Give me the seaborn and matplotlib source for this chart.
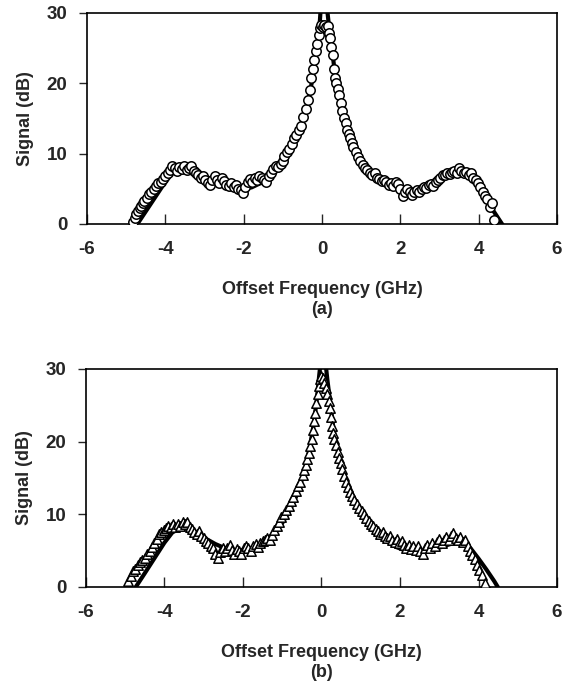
import pandas as pd
import seaborn as sns
import matplotlib.pyplot as plt

# --- measured points, panel (a) (circles) ---
a_freq = [-4.82, -4.78, -4.74, -4.70, -4.66, -4.62, -4.58, -4.54, -4.48, -4.42,
          -4.36, -4.30, -4.24, -4.18, -4.12, -4.06, -4.00, -3.94, -3.88, -3.82,
          -3.76, -3.70, -3.64, -3.58, -3.52, -3.46, -3.40, -3.34, -3.28, -3.22,
          -3.16, -3.10, -3.04, -2.98, -2.92, -2.86, -2.80, -2.74, -2.68, -2.62,
          -2.56, -2.50, -2.44, -2.38, -2.32, -2.26, -2.20, -2.14, -2.08, -2.02,
          -1.96, -1.90, -1.84, -1.78, -1.72, -1.66, -1.60, -1.54, -1.48, -1.42,
          -1.36, -1.30, -1.24, -1.18, -1.12, -1.06, -1.00, -0.96, -0.90, -0.84,
          -0.78, -0.72, -0.66, -0.60, -0.54, -0.48, -0.42, -0.36, -0.32, -0.28,
          -0.24, -0.20, -0.16, -0.12, -0.08, -0.05, -0.02, 0.02,
          0.06, 0.10, 0.14, 0.18, 0.21, 0.24, 0.27, 0.30, 0.33, 0.36,
          0.40, 0.44, 0.48, 0.52, 0.56, 0.60, 0.64, 0.68, 0.72, 0.76,
          0.80, 0.86, 0.92, 0.98, 1.04, 1.10, 1.16, 1.22, 1.28, 1.34,
          1.40, 1.46, 1.52, 1.58, 1.64, 1.70, 1.76, 1.82, 1.88, 1.94,
          2.00, 2.06, 2.12, 2.18, 2.24, 2.30, 2.36, 2.42, 2.48, 2.54,
          2.60, 2.66, 2.72, 2.78, 2.84, 2.90, 2.96, 3.02, 3.08, 3.14,
          3.20, 3.26, 3.32, 3.38, 3.44, 3.50, 3.56, 3.62, 3.68, 3.74,
          3.80, 3.86, 3.92, 3.98, 4.04, 4.10, 4.16, 4.22, 4.28, 4.34, 4.38]
a_signal = [0.3, 0.9, 1.4, 1.8, 2.3, 2.6, 3.0, 3.2, 3.7, 4.3,
            4.6, 5.0, 5.4, 5.8, 6.0, 6.4, 6.8, 7.3, 7.7, 8.2,
            8.0, 7.6, 8.1, 7.8, 8.2, 7.7, 8.0, 8.3, 7.6, 7.2,
            6.9, 6.5, 6.8, 6.2, 5.8, 5.5, 6.2, 6.8, 6.3, 5.8,
            6.6, 6.1, 5.6, 5.4, 5.8, 5.2, 5.6, 5.0, 4.8, 4.4,
            5.2, 5.9, 6.4, 6.0, 6.5, 6.3, 6.8, 6.6, 6.2, 6.0,
            6.8, 7.3, 7.8, 8.3, 8.1, 8.5, 8.9, 9.6, 10.2, 10.6,
            11.3, 12.2, 12.6, 13.3, 14.0, 15.2, 16.3, 17.6, 19.0, 20.8,
            22.0, 23.3, 24.6, 25.6, 26.8, 27.8, 28.3, 28.0,
            28.3, 28.0, 28.2, 27.2, 26.4, 25.2, 24.0, 22.0, 20.8, 20.0,
            19.2, 18.3, 17.2, 16.0, 15.1, 14.4, 13.4, 12.8, 12.2, 11.5,
            11.0, 10.2, 9.5, 8.9, 8.4, 8.0, 7.7, 7.3, 7.0, 7.2,
            6.6, 6.4, 6.1, 6.3, 5.9, 5.6, 5.8, 5.4, 6.0, 5.7,
            5.0, 4.0, 4.6, 5.0, 4.5, 4.1, 4.5, 4.8, 4.6, 5.0,
            5.3, 5.1, 5.5, 5.7, 5.4, 6.0, 6.3, 6.6, 6.9, 7.0,
            7.3, 7.1, 7.4, 7.6, 7.3, 8.0, 7.5, 7.2, 7.4, 7.0,
            7.2, 6.6, 6.2, 5.8, 5.2, 4.6, 4.0, 3.5, 2.4, 3.0, 0.6]

# --- theory curve, panel (a): two branches either side of the carrier ---
a_fit_left_x = [-4.75, -4.5, -4.25, -4.0, -3.8, -3.6, -3.4, -3.2, -3.0, -2.6,
                -2.2, -2.0, -1.8, -1.5, -1.2, -1.0, -0.8, -0.6, -0.4, -0.3,
                -0.2, -0.12, -0.06, -0.03]
a_fit_left_y = [-0.3, 1.8, 3.9, 6.0, 7.4, 7.9, 7.9, 7.4, 6.8, 5.8,
                5.1, 5.0, 5.2, 6.0, 7.4, 8.8, 10.5, 12.9, 16.5, 19.0,
                22.0, 25.5, 28.5, 31.0]
a_fit_right_x = [0.12, 0.17, 0.25, 0.35, 0.5, 0.7, 0.9, 1.2, 1.5, 1.8,
                 2.0, 2.3, 2.6, 3.0, 3.3, 3.5, 3.7, 3.9, 4.1, 4.3, 4.5, 4.63]
a_fit_right_y = [31.0, 28.5, 25.0, 20.5, 16.5, 12.5, 10.0, 7.8, 6.3, 5.4,
                 5.0, 4.8, 5.1, 6.0, 7.0, 7.3, 7.0, 5.8, 4.2, 2.5, 0.8, -0.3]

# --- measured points, panel (b) (triangles) ---
b_freq = [-4.92, -4.86, -4.80, -4.74, -4.68, -4.62, -4.56, -4.50, -4.44, -4.38,
          -4.32, -4.26, -4.20, -4.14, -4.08, -4.02, -3.96, -3.90, -3.84, -3.78,
          -3.72, -3.66, -3.60, -3.54, -3.48, -3.42, -3.36, -3.30, -3.24, -3.18,
          -3.12, -3.06, -3.00, -2.94, -2.88, -2.82, -2.76, -2.70, -2.64, -2.58,
          -2.52, -2.46, -2.40, -2.34, -2.28, -2.22, -2.16, -2.10, -2.04, -1.98,
          -1.92, -1.86, -1.80, -1.74, -1.68, -1.62, -1.56, -1.50, -1.44, -1.38,
          -1.32, -1.26, -1.20, -1.14, -1.08, -1.02, -0.96, -0.90, -0.84, -0.78,
          -0.72, -0.66, -0.60, -0.54, -0.48, -0.44, -0.40, -0.36, -0.32, -0.28,
          -0.25, -0.22, -0.19, -0.16, -0.13, -0.10, -0.07, -0.04, -0.01,
          0.03, 0.07, 0.11, 0.15, 0.18, 0.21, 0.24, 0.27, 0.30, 0.33,
          0.37, 0.41, 0.45, 0.49, 0.53, 0.58, 0.63, 0.68, 0.73, 0.78,
          0.84, 0.90, 0.96, 1.02, 1.08, 1.14, 1.20, 1.26, 1.32, 1.38,
          1.44, 1.50, 1.56, 1.62, 1.68, 1.74, 1.80, 1.86, 1.92, 1.98,
          2.04, 2.10, 2.16, 2.22, 2.28, 2.34, 2.40, 2.46, 2.52, 2.58,
          2.64, 2.70, 2.76, 2.82, 2.88, 2.94, 3.00, 3.06, 3.12, 3.18,
          3.24, 3.30, 3.36, 3.42, 3.48, 3.54, 3.60, 3.66, 3.72, 3.78,
          3.84, 3.90, 3.96, 4.02, 4.08, 4.16]
b_signal = [0.8, 1.5, 2.2, 2.5, 3.0, 3.5, 3.7, 4.0, 4.5, 4.9,
            5.5, 6.0, 6.6, 7.3, 7.6, 7.9, 8.1, 8.4, 8.2, 8.6,
            8.3, 8.7, 8.4, 8.9, 8.6, 9.0, 8.3, 8.0, 7.6, 7.3,
            7.7, 7.0, 6.7, 6.3, 6.0, 5.7, 5.3, 4.6, 4.0, 4.8,
            5.4, 5.0, 5.4, 5.8, 5.1, 4.6, 5.2, 5.0, 4.5, 5.4,
            5.7, 5.3, 5.0, 5.6, 5.9, 5.5, 6.0, 6.3, 6.5, 6.8,
            6.4, 7.2, 7.8, 8.4, 9.0, 9.6, 10.1, 10.6, 11.2, 11.8,
            12.4, 13.2, 13.9, 14.5, 15.4, 16.1, 16.8, 17.6, 18.5, 19.4,
            20.4, 21.6, 22.8, 24.0, 25.3, 26.5, 27.6, 28.6, 29.0,
            28.8, 28.0, 27.4, 26.6, 25.6, 24.6, 23.4, 22.2, 21.2, 20.3,
            19.5, 18.6, 17.7, 17.0, 16.2, 15.3, 14.5, 13.8, 13.1, 12.5,
            12.0, 11.4, 10.9, 10.4, 10.0, 9.5, 9.1, 8.7, 8.4, 8.0,
            7.7, 7.3, 7.5, 7.0, 6.7, 7.0, 6.5, 6.2, 6.6, 6.0,
            6.3, 5.8, 5.4, 5.8, 5.2, 5.6, 5.1, 5.6, 5.0, 4.5,
            5.3, 5.8, 5.4, 6.0, 5.7, 6.2, 6.6, 6.0, 6.5, 6.9,
            6.4, 7.0, 7.4, 6.8, 6.5, 6.9, 6.2, 6.5, 5.7, 5.0,
            4.4, 3.8, 3.0, 2.4, 1.6, 0.5]

# --- theory curve, panel (b) ---
b_fit_left_x = [-4.73, -4.5, -4.25, -4.0, -3.8, -3.6, -3.4, -3.2, -3.0, -2.7,
                -2.4, -2.1, -1.8, -1.5, -1.2, -1.0, -0.8, -0.6, -0.4, -0.3,
                -0.2, -0.12, -0.06, -0.02]
b_fit_left_y = [0.0, 1.9, 4.0, 6.1, 7.5, 8.1, 8.0, 7.5, 6.8, 5.9,
                5.2, 5.0, 5.3, 6.1, 7.4, 8.8, 10.6, 13.0, 16.6, 19.2,
                22.3, 25.8, 29.0, 31.0]
b_fit_right_x = [0.1, 0.15, 0.22, 0.3, 0.4, 0.5, 0.65, 0.8, 1.0, 1.3,
                 1.6, 1.9, 2.2, 2.5, 2.8, 3.1, 3.4, 3.6, 3.8, 4.0,
                 4.2, 4.4, 4.49]
b_fit_right_y = [31.0, 28.5, 25.5, 22.0, 19.0, 16.8, 14.3, 12.3, 10.2, 8.0,
                 6.5, 5.5, 4.9, 4.7, 5.0, 5.6, 6.1, 6.1, 5.3, 3.9,
                 2.4, 0.8, 0.0]

x_ticks = [-6, -4, -2, 0, 2, 4, 6]
y_ticks = [0, 10, 20, 30]

sns.set_style("ticks")
plt.rcParams['font.family'] = ['Liberation Sans', 'DejaVu Sans']
plt.rcParams['font.weight'] = 'bold'
plt.rcParams['axes.unicode_minus'] = False

fig = plt.figure(figsize=(5.69, 6.90), dpi=100)
ax_a = fig.add_axes([0.153, 0.6754, 0.826, 0.3058])
ax_b = fig.add_axes([0.151, 0.1493, 0.828, 0.3160])

panels = [
    (ax_a, a_freq, a_signal, a_fit_left_x, a_fit_left_y, a_fit_right_x, a_fit_right_y, 'o', '(a)'),
    (ax_b, b_freq, b_signal, b_fit_left_x, b_fit_left_y, b_fit_right_x, b_fit_right_y, '^', '(b)'),
]

for ax, fx, fy, lx, ly, rx, ry, mk, tag in panels:
    pts = pd.DataFrame({'freq': fx, 'signal': fy})
    fit = pd.DataFrame({
        'freq': lx + rx,
        'signal': ly + ry,
        'branch': ['left'] * len(lx) + ['right'] * len(rx),
    })
    sns.lineplot(data=fit, x='freq', y='signal', units='branch', estimator=None,
                 color='black', lw=3.0, ax=ax, zorder=2)
    sns.scatterplot(data=pts, x='freq', y='signal', marker=mk, s=46,
                    facecolor='white', edgecolor='black', linewidth=1.1,
                    ax=ax, zorder=3)

    ax.set_xlim(-6, 6)
    ax.set_ylim(0, 30)
    ax.set_xticks(x_ticks)
    ax.set_yticks(y_ticks)
    ax.set_xticklabels([str(t) for t in x_ticks])
    ax.set_yticklabels([str(t) for t in y_ticks])
    ax.tick_params(axis='x', direction='in', length=7, width=1.0, pad=12,
                   labelsize=13.5, top=False)
    ax.tick_params(axis='y', direction='out', length=6, width=1.0, pad=8,
                   labelsize=13.5, right=False)
    for s in ax.spines.values():
        s.set_linewidth(1.2)
        s.set_color('black')
    ax.set_xlabel('Offset Frequency (GHz)\n' + tag, fontsize=13,
                  fontweight='bold', labelpad=17, linespacing=1.2)
    ax.set_ylabel('Signal (dB)', fontsize=13, fontweight='bold', labelpad=9)

fig.savefig('out.png', dpi=100)
